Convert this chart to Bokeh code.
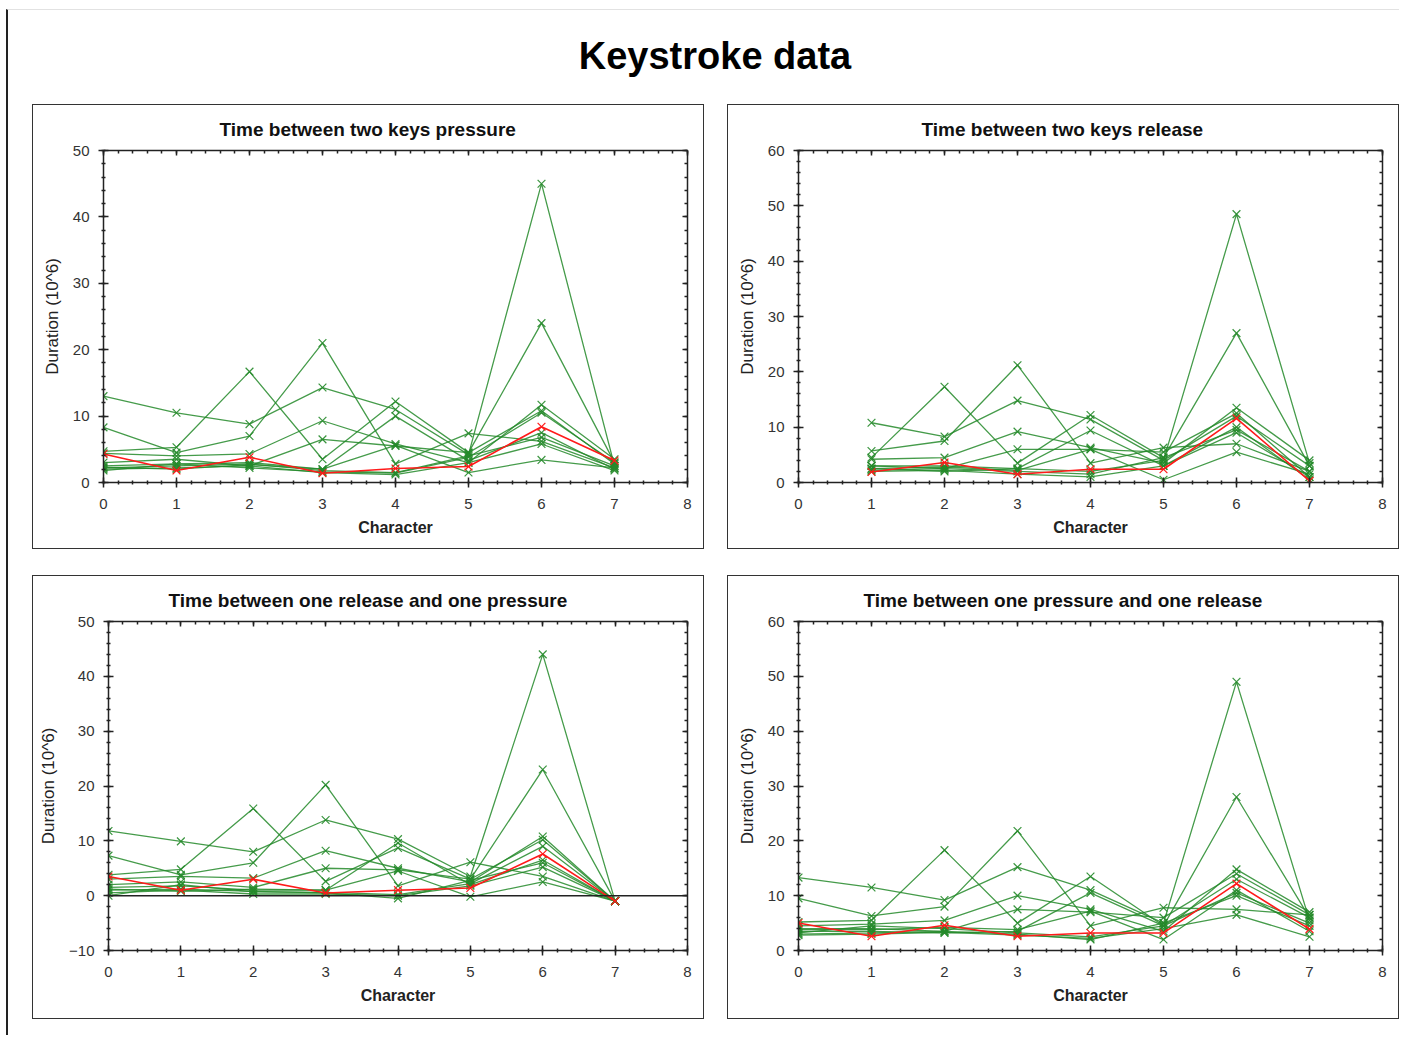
from bokeh.plotting import figure
from bokeh.models import Range1d, LinearAxis, FixedTicker, Span, Div, Spacer, Title
from bokeh.layouts import column, row
from bokeh.embed import file_html
from bokeh.resources import INLINE

FONT = "Liberation Sans"
GREEN = "#25892a"
RED = "#ff1a1a"

# ---------------- data ----------------
chars_all = [0, 1, 2, 3, 4, 5, 6, 7]
chars_from1 = [1, 2, 3, 4, 5, 6, 7]

# Time between two keys pressure (one list per user)
press_press_users = [
    [13.0, 10.5, 8.8, 14.3, 11.0, 4.2, 45.0, 2.5],
    [8.3, 4.5, 7.0, 21.0, 2.8, 7.4, 6.2, 2.2],
    [4.7, 5.3, 16.7, 3.5, 12.2, 4.5, 24.0, 3.0],
    [4.4, 4.0, 4.3, 9.3, 5.8, 3.0, 11.7, 3.5],
    [3.0, 3.5, 2.5, 6.5, 5.5, 4.5, 10.8, 2.8],
    [2.5, 2.8, 3.0, 2.0, 10.0, 3.3, 7.5, 2.0],
    [2.2, 2.5, 2.8, 1.8, 1.5, 4.0, 6.8, 2.5],
    [2.0, 2.2, 2.5, 1.5, 1.2, 3.0, 5.8, 1.8],
    [1.8, 2.8, 2.2, 1.6, 1.4, 3.8, 10.5, 3.0],
    [2.3, 2.0, 2.7, 2.0, 5.6, 1.5, 3.4, 2.2],
]
press_press_mean = [4.3, 1.8, 3.8, 1.4, 2.1, 2.4, 8.4, 3.3]

# Time between two keys release (characters 1..7)
release_release_users = [
    [10.8, 8.3, 14.8, 11.4, 4.0, 48.5, 3.5],
    [5.7, 7.5, 21.2, 3.5, 6.3, 7.0, 2.0],
    [4.5, 17.3, 3.5, 12.2, 4.5, 27.0, 3.0],
    [4.2, 4.5, 9.2, 6.3, 3.5, 13.5, 4.0],
    [3.0, 2.5, 6.0, 6.0, 5.5, 12.5, 1.0],
    [2.5, 2.0, 2.5, 9.4, 3.0, 10.0, 0.5],
    [2.2, 2.5, 2.0, 1.5, 4.5, 9.5, 2.0],
    [2.0, 2.2, 1.5, 1.0, 3.0, 9.0, 1.0],
    [3.0, 3.0, 2.5, 2.0, 4.0, 12.0, 3.0],
    [2.5, 2.8, 2.2, 6.0, 0.5, 5.5, 1.5],
]
release_release_mean = [1.9, 3.6, 1.5, 2.4, 2.4, 11.6, 0.3]

# Time between one release and one pressure
release_press_users = [
    [11.8, 9.9, 8.0, 13.8, 10.3, 3.5, 44.0, -1.0],
    [7.3, 3.8, 6.0, 20.2, 1.8, 6.1, 3.5, -1.0],
    [3.8, 4.8, 15.9, 2.6, 8.7, 3.0, 23.0, -1.0],
    [3.0, 3.5, 3.2, 8.2, 5.0, 2.5, 10.8, -1.0],
    [2.0, 2.5, 1.5, 5.0, 4.7, 3.0, 10.2, -1.0],
    [1.5, 1.8, 1.0, 1.0, 9.6, 2.0, 6.5, -1.0],
    [1.0, 1.2, 0.8, 0.5, -0.5, 2.8, 6.0, -1.0],
    [0.5, 1.0, 0.3, 0.3, 0.0, 1.8, 5.2, -1.0],
    [0.0, 2.0, 0.7, 0.6, 0.2, 2.2, 9.0, -1.0],
    [1.2, 0.8, 1.2, 1.0, 4.5, -0.2, 2.5, -1.0],
]
release_press_mean = [3.5, 1.0, 3.0, 0.5, 1.0, 1.4, 7.6, -1.0]

# Time between one pressure and one release
press_release_users = [
    [13.3, 11.5, 9.2, 15.2, 11.0, 5.0, 49.0, 5.5],
    [9.5, 6.3, 8.0, 21.8, 4.5, 7.8, 7.5, 6.5],
    [5.2, 5.5, 18.3, 5.0, 13.5, 4.5, 28.0, 6.0],
    [4.5, 4.8, 5.5, 10.0, 7.5, 3.5, 14.8, 7.0],
    [4.0, 4.0, 3.5, 7.5, 7.0, 6.0, 14.0, 6.5],
    [3.5, 3.5, 3.2, 3.5, 10.5, 4.5, 10.5, 5.0],
    [3.0, 3.2, 3.5, 3.0, 2.0, 5.0, 10.0, 4.5],
    [2.8, 3.0, 3.3, 2.8, 2.2, 4.0, 6.5, 2.5],
    [3.2, 4.5, 4.0, 3.2, 2.5, 4.5, 13.0, 6.0],
    [3.8, 3.8, 4.2, 3.8, 7.2, 2.0, 11.0, 3.5],
]
press_release_mean = [5.0, 2.6, 4.6, 2.6, 3.2, 3.2, 12.2, 3.9]

x_major = [0, 1, 2, 3, 4, 5, 6, 7, 8]
x_minor = [i * 0.2 for i in range(41)]


def y_ticks(lo, hi):
    major = list(range(lo, hi + 1, 10))
    minor = list(range(lo, hi + 1, 2))
    return major, minor


def style_main_axis(ax, standoff):
    ax.axis_line_color = "#222222"
    ax.axis_line_width = 1.5
    ax.major_tick_line_color = "#222222"
    ax.major_tick_line_width = 1.5
    ax.minor_tick_line_color = "#222222"
    ax.minor_tick_line_width = 1.5
    ax.major_tick_in = 5
    ax.major_tick_out = 5
    ax.minor_tick_in = 2
    ax.minor_tick_out = 2
    ax.major_label_text_font = FONT
    ax.major_label_text_font_size = "15px"
    ax.major_label_text_color = "#333333"
    ax.major_label_standoff = standoff


def make_panel(title, offset, xs, users, mean, ylo, yhi, left, top, bottom, height,
               title_standoff, title_lh, zero_line=False):
    p = figure(width=672, height=height,
               x_range=Range1d(0, 8), y_range=Range1d(ylo, yhi),
               output_backend="svg", toolbar_location=None,
               min_border_left=left, min_border_right=18,
               min_border_top=top, min_border_bottom=bottom,
               background_fill_color="white", border_fill_color="white",
               outline_line_color=None,
               styles={"border": "1px solid #333333"})
    p.title = Title(text=title, align="left", offset=offset,
                    text_font=FONT, text_font_size="19px",
                    text_font_style="bold", text_color="#111111",
                    standoff=title_standoff, text_line_height=title_lh)
    p.xgrid.visible = False
    p.ygrid.visible = False
    ymaj, ymin_ = y_ticks(ylo, yhi)
    xt = FixedTicker(ticks=x_major, minor_ticks=x_minor)
    yt = FixedTicker(ticks=ymaj, minor_ticks=ymin_)
    p.xaxis[0].ticker = xt
    p.yaxis[0].ticker = yt
    style_main_axis(p.xaxis[0], 11)
    style_main_axis(p.yaxis[0], 9)
    p.xaxis[0].axis_label = "Character"
    p.xaxis[0].axis_label_text_font = FONT
    p.xaxis[0].axis_label_text_font_size = "16px"
    p.xaxis[0].axis_label_text_font_style = "bold"
    p.xaxis[0].axis_label_text_color = "#222222"
    p.xaxis[0].axis_label_standoff = 7
    p.yaxis[0].axis_label = "Duration (10^6)"
    p.yaxis[0].axis_label_text_font = FONT
    p.yaxis[0].axis_label_text_font_size = "17px"
    p.yaxis[0].axis_label_text_font_style = "normal"
    p.yaxis[0].axis_label_text_color = "#222222"
    p.yaxis[0].axis_label_standoff = 8

    for side, tick in (("above", xt), ("right", yt)):
        ax = LinearAxis(ticker=tick, major_label_text_font_size="1px",
                        major_label_text_color=None,
                        major_label_standoff=0,
                        axis_line_color="#222222", axis_line_width=1.5,
                        major_tick_line_color="#222222", major_tick_line_width=1.5,
                        minor_tick_line_color="#222222", minor_tick_line_width=1.5,
                        major_tick_in=5, major_tick_out=0,
                        minor_tick_in=3, minor_tick_out=0)
        p.add_layout(ax, side)

    if zero_line:
        p.add_layout(Span(location=0, dimension="width", line_color="#222222",
                          line_width=1.5))

    for u in users:
        p.line(xs, u, line_color=GREEN, line_width=1.3, line_alpha=0.85)
        p.scatter(xs, u, marker="x", size=11, line_color=GREEN, line_width=1.2, line_alpha=0.9)
    p.line(xs, mean, line_color=RED, line_width=1.6)
    p.scatter(xs, mean, marker="x", size=11, line_color=RED, line_width=1.2)
    return p


p1 = make_panel("Time between two keys pressure", 116, chars_all,
                press_press_users, press_press_mean, 0, 50, 70, 45, 68, 445, 22, 1.0)
p2 = make_panel("Time between two keys release", 123, chars_from1,
                release_release_users, release_release_mean, 0, 60, 70, 45, 68, 445, 22, 1.0)
p3 = make_panel("Time between one release and one pressure", 60, chars_all,
                release_press_users, release_press_mean, -10, 50, 75, 43, 70, 444, 22, 0.8,
                zero_line=True)
p4 = make_panel("Time between one pressure and one release", 65, chars_all,
                press_release_users, press_release_mean, 0, 60, 70, 44, 69, 444, 22, 0.85)

p1.margin = (0, 0, 0, 24)
p2.margin = (0, 0, 0, 23)
p3.margin = (26, 0, 0, 24)
p4.margin = (26, 0, 0, 23)

head = Div(text=("<div style=\"font-family:'Liberation Sans',Arial,sans-serif;"
                 "font-weight:bold;font-size:38px;line-height:44px;color:#000;"
                 "text-align:center;width:1390px;padding-left:24px;padding-top:24px;"
                 "box-sizing:border-box;\">Keystroke data</div>"),
           width=1390, height=94, margin=(0, 0, 0, 0))

layout = column(head, row(p1, p2, margin=(0, 0, 0, 0)),
                row(p3, p4, margin=(0, 0, 0, 0)),
                Spacer(width=10, height=16, margin=(0, 0, 0, 0)),
                margin=(9, 0, 0, 6),
                styles={"border-left": "2px solid #222222",
                        "border-top": "1px solid #e2e2e2"})

open("out.html", "w").write(file_html(layout, INLINE))
